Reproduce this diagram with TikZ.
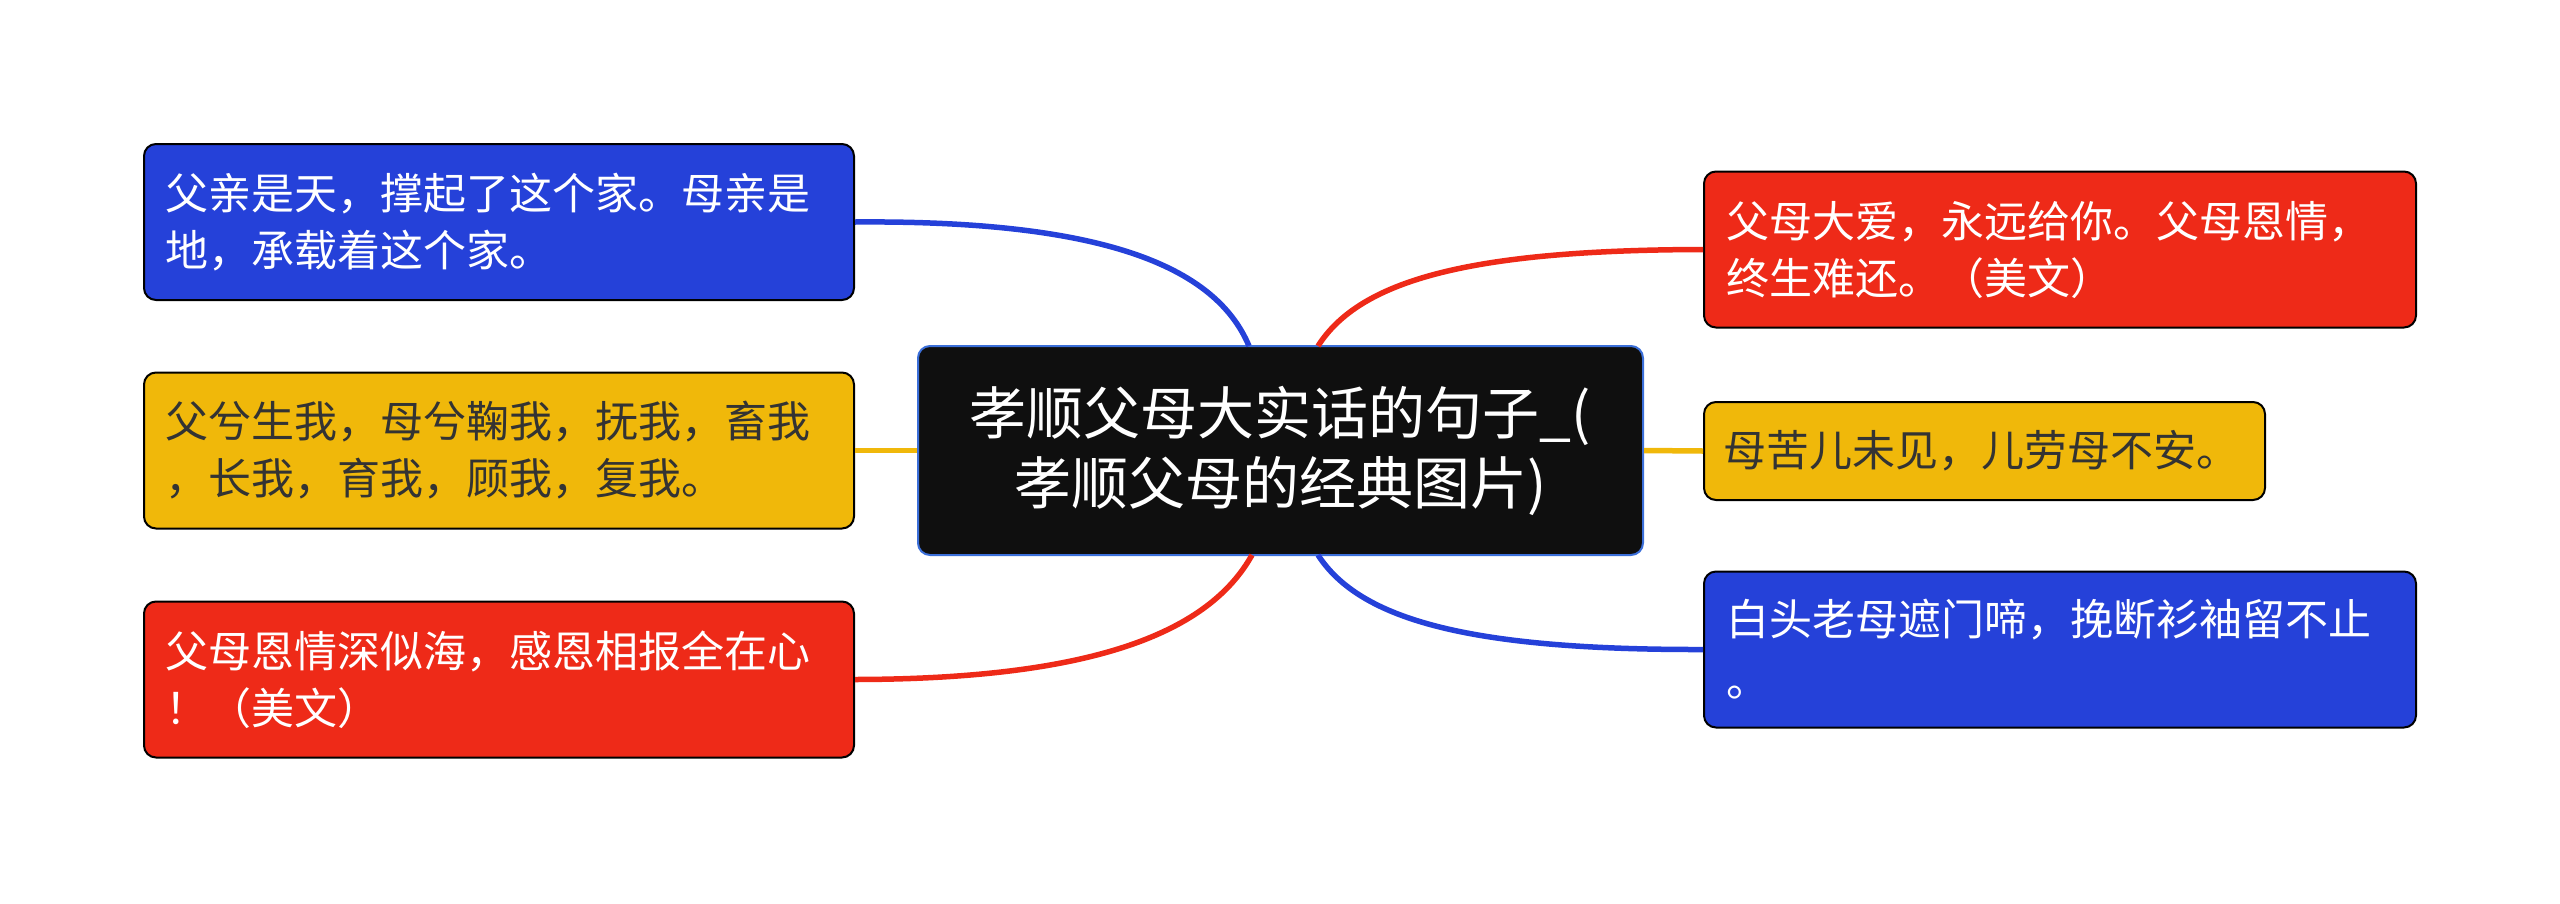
\documentclass[tikz,border=0pt]{standalone}
\usepackage{fontspec}
\newfontfamily\cjk{Noto Sans CJK SC}
\definecolor{cblue}{HTML}{2541D9}
\definecolor{cred}{HTML}{EE2A18}
\definecolor{cyellow}{HTML}{F0B80A}
\definecolor{cdark}{HTML}{333333}
\definecolor{ccenter}{HTML}{0F0F0F}
\definecolor{cborder}{HTML}{3B6FD9}
\begin{document}
\begin{tikzpicture}[x=1pt,y=-1pt,
  leaf/.style={draw=black, line width=2pt, rounded corners=12pt, inner sep=0pt,
    minimum height=156pt, minimum width=710pt, text width=668pt, align=left,
    font=\cjk\fontsize{43}{57}\selectfont},
  bluebox/.style={leaf, fill=cblue, text=white},
  redbox/.style={leaf, fill=cred, text=white},
  yellowbox/.style={leaf, fill=cyellow, text=cdark},
  centerbox/.style={draw=cborder, line width=2pt, rounded corners=12pt, fill=ccenter,
    text=white, inner sep=0pt, minimum width=725pt, minimum height=209pt,
    align=center, font=\cjk\fontsize{57}{70}\selectfont},
  link/.style={line width=5.5pt}]
\useasboundingbox (0,0) rectangle (2560,903);

\coordinate (ctl) at (1249,346);
\coordinate (ctr) at (1318,346);
\coordinate (cbl) at (1252,555);
\coordinate (cbr) at (1318,555);

\node[centerbox] (c) at (1280.5,450.5) {孝顺父母大实话的句子\_(\\孝顺父母的经典图片)};

\node[bluebox] (tl) at (499,222) {父亲是天，撑起了这个家。母亲是\\地，承载着这个家。};
\node[yellowbox] (ml) at (499,450.5) {父兮生我，母兮鞠我，抚我，畜我\\，长我，育我，顾我，复我。};
\node[redbox] (bl) at (499,679.5) {父母恩情深似海，感恩相报全在心\\！（美文）};

\node[redbox, minimum width=712pt] (tr) at (2060,249.5) {父母大爱，永远给你。父母恩情，\\终生难还。（美文）};
\node[yellowbox, minimum width=561pt, minimum height=98pt, text width=522pt] (mr) at (1984.5,451) {母苦儿未见，儿劳母不安。};
\node[bluebox, minimum width=712pt] (br) at (2060,649.5) {白头老母遮门啼，挽断衫袖留不止\\[4pt]。};

\draw[link, cblue] (tl.east) .. controls (1100,220) and (1215,265) .. (ctl);
\draw[link, cred] (ctr) .. controls (1360,280) and (1470,250) .. (tr.west);
\draw[link, cyellow] (ml.east) -- (c.west);
\draw[link, cyellow] (c.east) -- (mr.west);
\draw[link, cred] (cbl) .. controls (1210,630) and (1100,679) .. (bl.east);
\draw[link, cblue] (cbr) .. controls (1360,620) and (1470,650) .. (br.west);
\end{tikzpicture}
\end{document}
